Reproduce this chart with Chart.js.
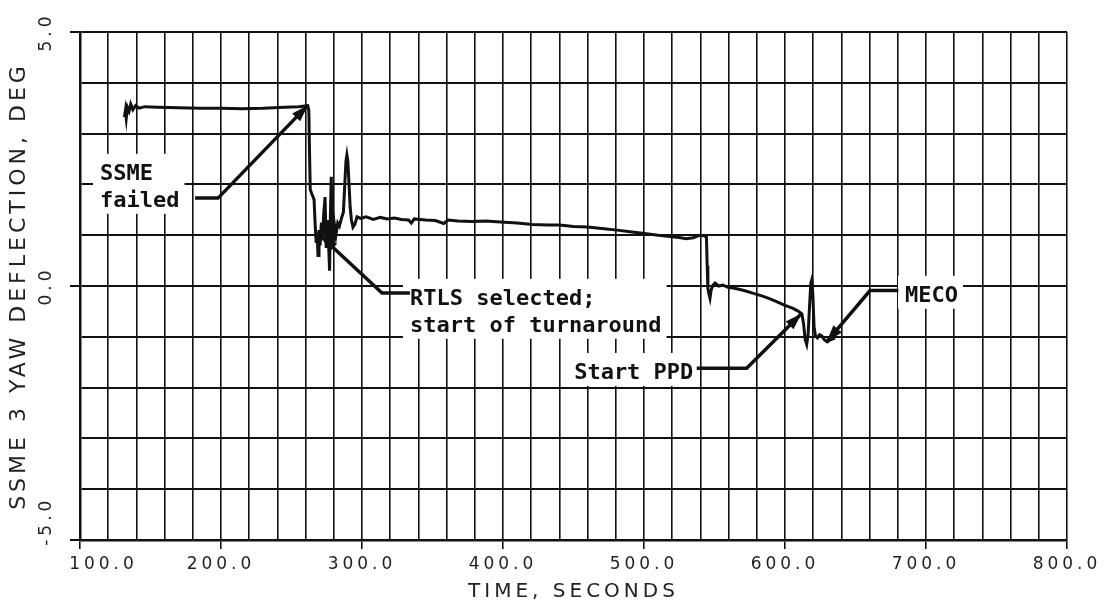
<!DOCTYPE html>
<html>
<head>
<meta charset="utf-8">
<script src="https://cdn.jsdelivr.net/npm/chart.js@4.4.1/dist/chart.umd.min.js"></script>
<style>
  html, body { margin: 0; padding: 0; background: #fff; }
</style>
</head>
<body>
<canvas id="myChart" width="1107" height="616"></canvas>
<script>
// SSME 3 yaw deflection trace
var timeSec = [
  131.5, 132.2, 132.8, 133.6, 134.8, 136.0, 137.5, 139.5, 142, 146, 155, 170, 185, 200, 215, 230, 245, 255, 261.5,
  262.3, 262.8, 263.3, 264.3, 265.2, 266.0, 266.8, 267.5, 268.2, 268.8, 269.5, 270.3, 271.2, 272.0, 272.8,
  273.8, 274.6, 275.4, 276.2, 277.0, 277.6, 278.2, 278.8, 279.6, 280.5, 281.5, 282.8, 284.0, 285.5, 286.8,
  287.8, 288.6, 289.3, 290.0, 290.8, 291.6, 292.5, 293.6, 295.0, 296.5, 299, 303, 308, 313, 318, 323, 328,
  333, 335, 337, 345, 352, 358, 361, 368, 378, 388, 398, 410, 421, 432, 440, 450, 460, 470, 481, 490, 499,
  510, 520, 526, 530, 535, 539.5, 542.5, 544.3, 544.8, 545.3, 546.0, 546.8, 547.6, 549.0, 550.4, 553, 556,
  559, 565, 571, 577, 583, 589, 594, 600, 605.7, 609, 612, 613.2, 614.3, 615.4, 616.4, 617.4, 618.3, 619.0,
  619.8, 620.6, 621.6, 623.0, 624.5, 626.0, 628.0, 630.0, 632.0, 634.0, 635.5
];
var yawDeg = [
  3.32, 3.45, 3.30, 3.52, 3.44, 3.58, 3.47, 3.55, 3.50, 3.53, 3.52, 3.51, 3.50, 3.50, 3.49, 3.50, 3.52, 3.53, 3.55,
  3.45, 2.60, 1.90, 1.82, 1.76, 1.70, 1.20, 0.85, 1.05, 0.60, 1.10, 0.80, 1.25, 0.90, 1.40,
  1.75, 0.75, 1.30, 0.90, 0.30, 1.40, 2.15, 1.05, 0.85, 1.20, 1.00, 1.24, 1.18, 1.34, 1.45,
  2.00, 2.45, 2.58, 2.45, 2.00, 1.55, 1.30, 1.16, 1.22, 1.36, 1.33, 1.36, 1.31, 1.35, 1.32, 1.34, 1.31,
  1.30, 1.24, 1.32, 1.30, 1.29, 1.23, 1.30, 1.28, 1.27, 1.28, 1.26, 1.24, 1.21, 1.20, 1.20, 1.17, 1.16, 1.13, 1.10, 1.07, 1.04,
  1.00, 0.97, 0.95, 0.93, 0.95, 1.00, 0.99, 0.96, 0.40, -0.05, -0.15, -0.24, -0.08, 0.02, 0.06, 0.00, 0.02,
  -0.02, -0.05, -0.09, -0.14, -0.19, -0.25, -0.31, -0.38, -0.44, -0.49, -0.55, -0.75, -1.05, -1.15, -0.95, -0.40, 0.05, 0.12,
  -0.20, -0.80, -0.98, -1.02, -0.96, -0.98, -1.06, -1.10, -1.06, -1.04, -1.02
];

var xTickLabels = ['100.0', '200.0', '300.0', '400.0', '500.0', '600.0', '700.0', '800.0'];
var yTickLabels = ['-5.0', '0.0', '5.0'];

// callout notes, positioned in data units
var callouts = [
  { lines: ['SSME', 'failed'], at: [114.2, 2.09], align: 'left',
    path: [[181.6, 1.73], [197.9, 1.73], [261.7, 3.56]] },
  { lines: ['RTLS selected;', 'start of turnaround'], at: [334, -0.37], align: 'left',
    path: [[334, -0.14], [314.2, -0.14], [270.9, 0.98]] },
  { lines: ['Start PPD'], at: [535, -1.83], align: 'right',
    path: [[537.4, -1.62], [572.8, -1.62], [611.8, -0.54]] },
  { lines: ['MECO'], at: [685.1, -0.31], align: 'left',
    path: [[680.4, -0.09], [660.3, -0.09], [629.5, -1.10]] }
];

var points = timeSec.map(function (t, i) { return { x: t, y: yawDeg[i] }; });

var ink = '#111';

// corner labels are pushed off the corner, like on the plot
function nudge(label, n) { return new Array(n + 1).join(' ') + label; }

var plotterText = {
  id: 'plotterText',
  beforeDraw: function (chart) { chart.ctx.letterSpacing = '4px'; },
  beforeDatasetsDraw: function (chart) { chart.ctx.letterSpacing = '0px'; }
};

var calloutPlugin = {
  id: 'callouts',
  afterDraw: function (chart) {
    var ctx = chart.ctx;
    var sx = chart.scales.x, sy = chart.scales.y;
    ctx.save();
    ctx.letterSpacing = '0px';
    ctx.font = 'bold 22px "DejaVu Sans Mono"';
    ctx.textBaseline = 'alphabetic';
    callouts.forEach(function (c) {
      var ax = sx.getPixelForValue(c.at[0]);
      var ay = sy.getPixelForValue(c.at[1]);
      var widest = 0;
      c.lines.forEach(function (l) { widest = Math.max(widest, ctx.measureText(l).width); });
      var left = c.align === 'left' ? ax : ax - widest;
      var lastBase = ay + (c.lines.length - 1) * 27;
      ctx.fillStyle = '#fff';
      ctx.fillRect(left - 7, ay - 26, widest + 12, lastBase - ay + 33);
      ctx.fillStyle = ink;
      ctx.textAlign = 'left';
      c.lines.forEach(function (l, i) { ctx.fillText(l, left, ay + i * 27); });

      // leader line with arrow
      var pts = c.path.map(function (p) { return [sx.getPixelForValue(p[0]), sy.getPixelForValue(p[1])]; });
      ctx.strokeStyle = ink;
      ctx.lineWidth = 3.5;
      ctx.lineJoin = 'miter';
      ctx.beginPath();
      ctx.moveTo(pts[0][0], pts[0][1]);
      for (var i = 1; i < pts.length; i++) ctx.lineTo(pts[i][0], pts[i][1]);
      ctx.stroke();
      var tip = pts[pts.length - 1], prev = pts[pts.length - 2];
      var ang = Math.atan2(tip[1] - prev[1], tip[0] - prev[0]);
      ctx.beginPath();
      ctx.moveTo(tip[0], tip[1]);
      ctx.lineTo(tip[0] - 17 * Math.cos(ang) + 5.5 * Math.sin(ang), tip[1] - 17 * Math.sin(ang) - 5.5 * Math.cos(ang));
      ctx.lineTo(tip[0] - 17 * Math.cos(ang) - 5.5 * Math.sin(ang), tip[1] - 17 * Math.sin(ang) + 5.5 * Math.cos(ang));
      ctx.closePath();
      ctx.fill();
    });
    ctx.restore();
  }
};

var ctx = document.getElementById('myChart').getContext('2d');
var myChart = new Chart(ctx, {
  type: 'line',
  data: {
    datasets: [{
      data: points,
      borderColor: ink,
      borderWidth: 3,
      pointRadius: 0,
      tension: 0,
      fill: false
    }]
  },
  options: {
    responsive: false,
    devicePixelRatio: 1,
    animation: false,
    layout: { padding: { left: 0, top: 32, right: 40, bottom: 0 } },
    plugins: {
      legend: { display: false },
      tooltip: { enabled: false }
    },
    scales: {
      x: {
        type: 'linear',
        min: 100,
        max: 800,
        afterFit: function (scale) { scale.height = 76; },
        border: { color: ink, width: 2.5 },
        grid: {
          color: ink,
          lineWidth: 1.6,
          tickLength: 9,
          tickColor: function (c) { return Math.round(c.tick.value) % 100 === 0 ? ink : 'rgba(0,0,0,0)'; }
        },
        ticks: {
          stepSize: 20,
          autoSkip: false,
          maxRotation: 0,
          padding: 5,
          color: '#222',
          font: { family: 'DejaVu Sans', size: 17 },
          callback: function (v) {
            var r = Math.round(v);
            if (r % 100 !== 0) return '';
            var lab = xTickLabels[(r - 100) / 100];
            return r === 100 ? nudge(lab, 5) : lab;
          }
        },
        title: {
          display: true,
          text: 'TIME, SECONDS',
          color: '#222',
          font: { family: 'DejaVu Sans', size: 20 },
          padding: { top: 0, bottom: 12 }
        }
      },
      y: {
        min: -5,
        max: 5,
        afterFit: function (scale) { scale.width = 80; },
        border: { color: ink, width: 2.5 },
        grid: {
          color: ink,
          lineWidth: 2,
          tickLength: 10,
          tickColor: function (c) { return Math.round(c.tick.value) % 5 === 0 ? ink : 'rgba(0,0,0,0)'; }
        },
        ticks: {
          stepSize: 1,
          autoSkip: false,
          minRotation: 90,
          maxRotation: 90,
          crossAlign: 'center',
          padding: -4,
          color: '#222',
          font: { family: 'DejaVu Sans', size: 17 },
          callback: function (v) {
            var r = Math.round(v);
            if (r % 5 !== 0) return '';
            var lab = yTickLabels[(r + 5) / 5];
            return r === -5 ? nudge(lab, 4) : lab;
          }
        },
        title: {
          display: true,
          text: 'SSME 3 YAW DEFLECTION, DEG',
          color: '#222',
          font: { family: 'DejaVu Sans', size: 22 },
          padding: { top: 6, bottom: 0 }
        }
      }
    }
  },
  plugins: [plotterText, calloutPlugin]
});
</script>
</body>
</html>
